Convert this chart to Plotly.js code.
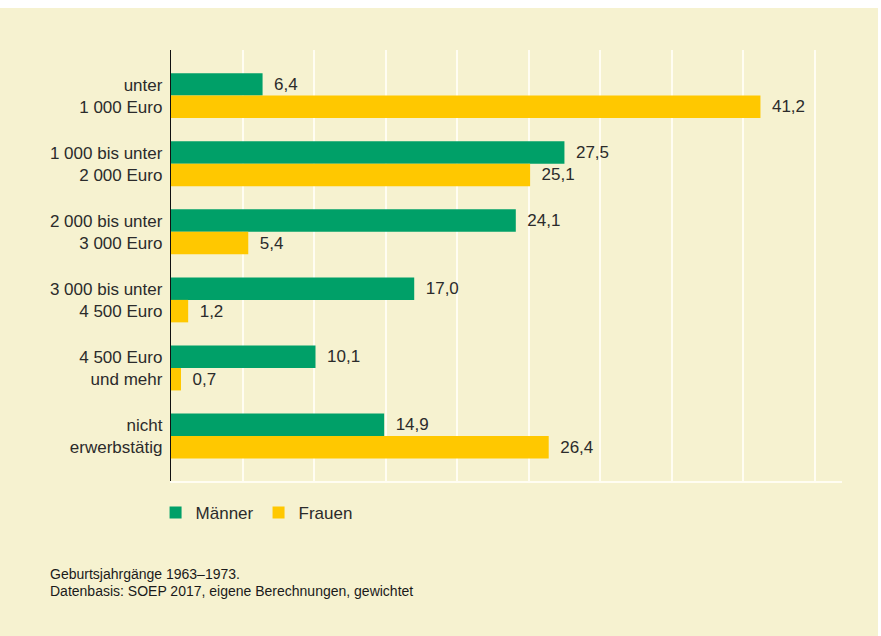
<!DOCTYPE html>
<html><head><meta charset="utf-8">
<script src="https://cdn.plot.ly/plotly-3.0.1.min.js"></script>
<style>html,body{margin:0;padding:0;background:#fff;}#chart{width:881px;height:636px;}</style>
</head><body><div id="chart"></div>
<script>
const categories = ["unter<br>1 000 Euro","1 000 bis unter<br>2 000 Euro","2 000 bis unter<br>3 000 Euro","3 000 bis unter<br>4 500 Euro","4 500 Euro<br>und mehr","nicht<br>erwerbstätig"];
const maenner = [6.4, 27.5, 24.1, 17.0, 10.1, 14.9];
const frauen = [41.2, 25.1, 5.4, 1.2, 0.7, 26.4];
const seriesNames = ["Männer","Frauen"];
const notes = ["Geburtsjahrgänge 1963–1973.","Datenbasis: SOEP 2017, eigene Berechnungen, gewichtet"];

const FF = "Liberation Sans, Arial, sans-serif";
const textFont = {family:FF, size:17, color:"#2b2b2b"};
const mk = (name, vals, color) => ({
  type:"bar", orientation:"h", name:name, y:categories, x:vals,
  marker:{color:color, line:{width:0}},
  texttemplate:"\u2002%{x:.1f}", textposition:"outside", cliponaxis:false,
  textfont:textFont, hoverinfo:"skip"
});
const data = [mk(seriesNames[0], maenner, "#00a068"), mk(seriesNames[1], frauen, "#ffc800")];

const layout = {
  width:881, height:636,
  paper_bgcolor:"rgba(0,0,0,0)", plot_bgcolor:"rgba(0,0,0,0)",
  separators:",.",
  margin:{l:171, r:39, t:50, b:155},
  barmode:"group", bargap:0.34, bargroupgap:0,
  font:textFont,
  showlegend:true,
  legend:{orientation:"h", x:-0.023, xanchor:"left", y:-0.074, yanchor:"middle",
    font:{family:FF, size:17, color:"#2b2b2b"},
    itemwidth:30, traceorder:"normal", bgcolor:"rgba(0,0,0,0)"},
  xaxis:{range:[0,46.9], dtick:5, tick0:0, showgrid:true, gridcolor:"#fffdf2", gridwidth:2,
    showticklabels:false, zeroline:false, showline:true, linecolor:"#fffdf2", linewidth:2, ticks:""},
  yaxis:{type:"category", autorange:false, range:[5.66,-0.67], showgrid:false, zeroline:false,
    showline:true, linecolor:"#111", linewidth:1.2, ticks:"", ticklabelstandoff:4,
    tickfont:{family:FF, size:17, color:"#2b2b2b"}},
  shapes:[{type:"rect", xref:"paper", yref:"paper", x0:-171/671, x1:(878-171)/671, y0:-(636-481)/431, y1:1+(50-8)/431,
    fillcolor:"#f6f2d0", line:{width:0}, layer:"below"}],
  annotations:notes.map((t,i)=>({xref:"paper", yref:"paper", x:(48-171)/671, xanchor:"left",
    y:-(574+i*17-481)/431, yanchor:"middle", text:t, showarrow:false,
    font:{family:FF, size:14, color:"#1a1a1a"}}))
};
Plotly.newPlot("chart", data, layout, {displayModeBar:false, staticPlot:true});
</script></body></html>
